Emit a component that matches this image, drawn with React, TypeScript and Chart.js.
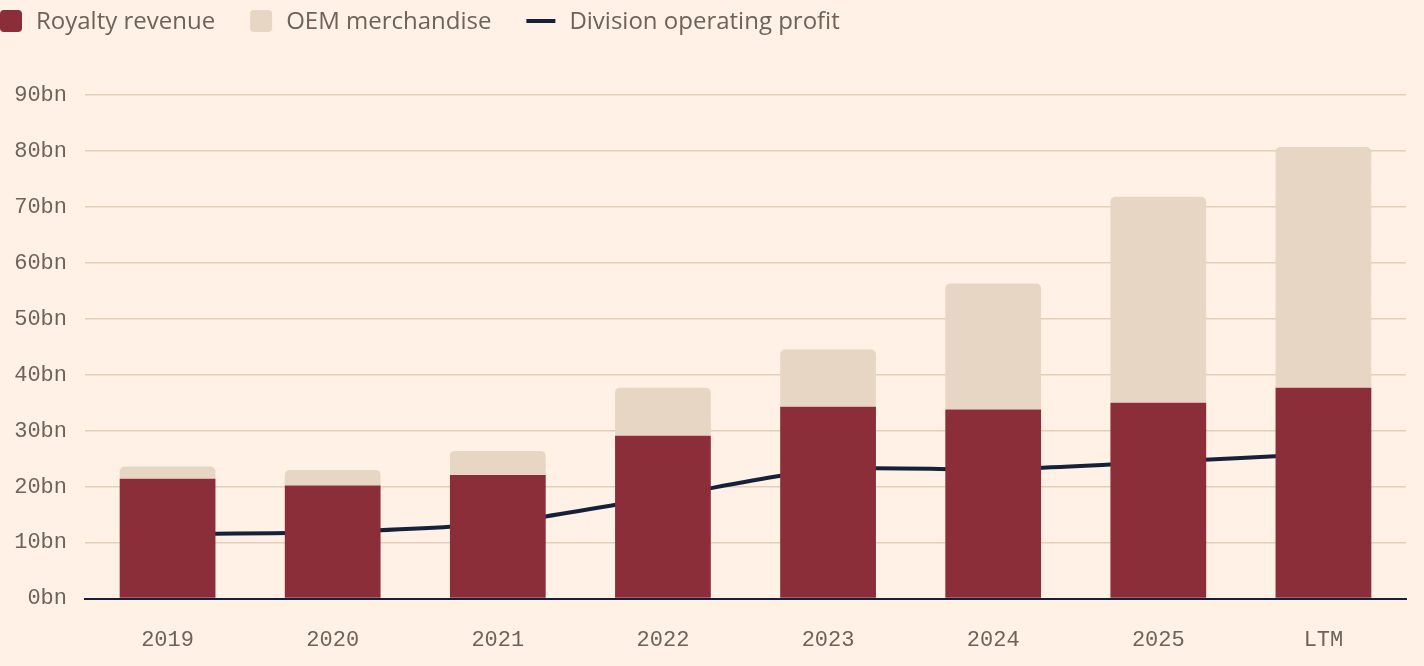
import { useEffect, useRef } from "react";
import { Chart, registerables } from "chart.js";

Chart.register(...registerables);

const categories = ["2019", "2020", "2021", "2022", "2023", "2024", "2025", "LTM"];
const royaltyRevenue = [21.4, 20.2, 22.1, 29.1, 34.3, 33.8, 35.0, 37.7];
const oemMerchandise = [2.2, 2.8, 4.3, 8.6, 10.2, 22.5, 36.8, 43.0];
const operatingProfit = [11.5, 11.9, 13.5, 18.2, 23.1, 23.1, 24.4, 25.9];
const yAxisMax = 90;
const yAxisStep = 10;
const yTickSuffix = "bn";

const BG = "#FFF1E5";
const RED = "#8B2E3A";
const BEIGE = "#E8D6C4";
const NAVY = "#15213B";
const TEXT = "#6F6258";
const GRID = "#E3CFBA";
const MONO = "'Liberation Mono', 'DejaVu Sans Mono', monospace";
const SANS = "'Open Sans', 'Noto Sans', sans-serif";

const backgroundPlugin = {
  id: "bgFill",
  beforeDraw(chart: any) {
    const { ctx, width, height } = chart;
    ctx.save();
    ctx.fillStyle = BG;
    ctx.fillRect(0, 0, width, height);
    ctx.restore();
  },
};

const topLegendPlugin = {
  id: "topLegend",
  afterDraw(chart: any) {
    const { ctx } = chart;
    const cy = 21;
    let x = 0;
    ctx.save();
    ctx.font = `24px ${SANS}`;
    ctx.textBaseline = "middle";
    ctx.textAlign = "left";
    chart.data.datasets.forEach((ds: any) => {
      if (ds.type === "line") {
        ctx.strokeStyle = ds.borderColor;
        ctx.lineWidth = 4;
        ctx.beginPath();
        ctx.moveTo(x, cy);
        ctx.lineTo(x + 29, cy);
        ctx.stroke();
        x += 29 + 14;
      } else {
        ctx.fillStyle = ds.backgroundColor;
        ctx.beginPath();
        (ctx as any).roundRect(x, cy - 11, 22, 22, 4);
        ctx.fill();
        x += 22 + 14;
      }
      ctx.fillStyle = TEXT;
      ctx.fillText(ds.label, x, cy + 1);
      x += ctx.measureText(ds.label).width + 35;
    });
    ctx.restore();
  },
};

export default function App() {
  const canvasRef = useRef<HTMLCanvasElement | null>(null);

  useEffect(() => {
    document.body.style.margin = "0";
    document.body.style.background = BG;
    const canvas = canvasRef.current;
    if (!canvas) return;
    const chart = new Chart(canvas, {
      type: "bar",
      data: {
        labels: categories,
        datasets: [
          {
            type: "bar",
            label: "Royalty revenue",
            data: royaltyRevenue,
            backgroundColor: RED,
            stack: "s",
            order: 1,
            borderWidth: 0,
          },
          {
            type: "bar",
            label: "OEM merchandise",
            data: oemMerchandise,
            backgroundColor: BEIGE,
            stack: "s",
            order: 1,
            borderWidth: 0,
            borderRadius: { topLeft: 5, topRight: 5, bottomLeft: 0, bottomRight: 0 },
            borderSkipped: "bottom",
          },
          {
            type: "line",
            label: "Division operating profit",
            data: operatingProfit,
            borderColor: NAVY,
            backgroundColor: NAVY,
            borderWidth: 4,
            pointRadius: 0,
            tension: 0.25,
            order: 10,
          } as any,
        ],
      },
      options: {
        animation: false,
        responsive: false,
        maintainAspectRatio: false,
        devicePixelRatio: 1,
        layout: { padding: { top: 95, right: 18, left: 0, bottom: -15 } },
        plugins: {
          legend: { display: false },
          tooltip: { enabled: false },
        },
        datasets: {
          bar: { categoryPercentage: 1, barPercentage: 0.58 },
        },
        scales: {
          x: {
            stacked: true,
            grid: { display: false, drawTicks: false },
            border: { display: true, color: NAVY, width: 2 },
            ticks: {
              color: TEXT,
              font: { family: MONO, size: 22 },
              padding: 28,
            },
          },
          y: {
            stacked: true,
            min: 0,
            max: yAxisMax,
            afterFit: (scale: any) => {
              scale.width = 85;
            },
            grid: {
              color: (c: any) => (c.tick && c.tick.value === 0 ? "rgba(0,0,0,0)" : GRID),
              lineWidth: 1.5,
              drawTicks: false,
            },
            border: { display: false },
            ticks: {
              stepSize: yAxisStep,
              color: TEXT,
              font: { family: MONO, size: 22 },
              padding: 18,
              callback: (v: any) => `${v}${yTickSuffix}`,
            },
          },
        },
      },
      plugins: [backgroundPlugin, topLegendPlugin],
    });
    return () => chart.destroy();
  }, []);

  return (
    <div style={{ width: 1424, height: 666, background: BG }}>
      <canvas ref={canvasRef} width={1424} height={666} style={{ display: "block" }} />
    </div>
  );
}
